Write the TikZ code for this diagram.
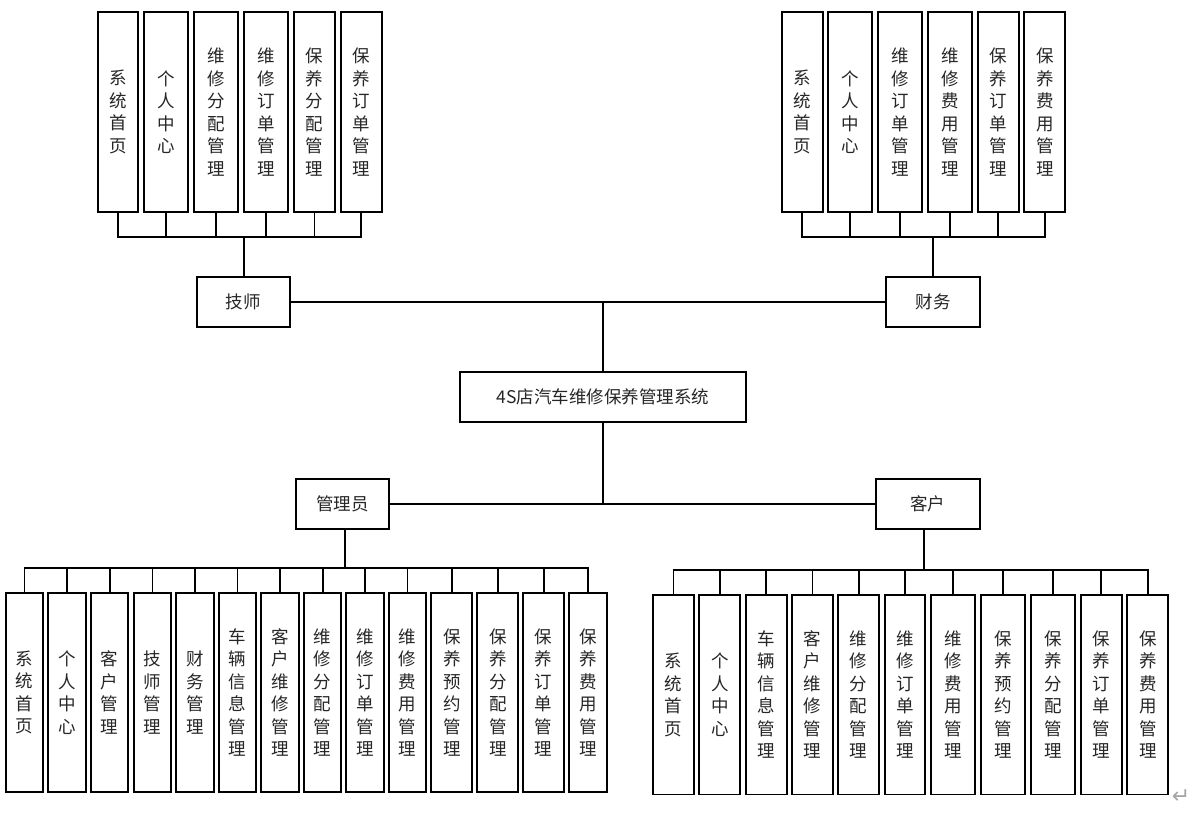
\documentclass[tikz,border=0pt]{standalone}
\usepackage{fontspec}
\newfontfamily\cjk{Noto Sans CJK SC}
\newfontfamily\dv{DejaVu Sans}
\tikzset{
  box/.style={draw=black, line width=1.7pt, fill=white, inner sep=0pt, font=\cjk\fontsize{17.5}{22.5}\selectfont, text=black!85},
  vb/.style={box, align=center, minimum height=199.5pt},
  hb/.style={box, minimum height=50pt},
  conn/.style={line width=1.7pt, draw=black}
}
\begin{document}
\begin{tikzpicture}[x=1pt,y=-1pt]
\useasboundingbox (0,0) rectangle (1203,818);
% levels
\coordinate (ytop) at (0,236.7);
\coordinate (ybl) at (0,568);
\coordinate (ybr) at (0,569.7);
% centre
\node[hb, minimum width=286pt] (main) at (603,396.7) {4S店汽车维修保养管理系统};
\node[hb, minimum width=93.3pt] (ts) at (243.35,301.7) {技师};
\node[hb, minimum width=94pt] (cw) at (933,301.7) {财务};
\node[hb, minimum width=93.6pt] (gly) at (342.5,504.2) {管理员};
\node[hb, minimum width=104.3pt] (kh) at (927.9,504.2) {客户};
\coordinate (jt) at (main.north |- ts.east);
\coordinate (jb) at (main.south |- gly.east);
\draw[conn] (ts.east) -- (cw.west);
\draw[conn] (main.north) -- (jt);
\draw[conn] (gly.east) -- (kh.west);
\draw[conn] (main.south) -- (jb);
% top-left
\node[vb, minimum width=40.6pt] (a1) at (118,112) {系\\统\\首\\页};
\node[vb, minimum width=44.3pt] (a2) at (166.15,112) {个\\人\\中\\心};
\node[vb, minimum width=44.3pt] (a3) at (216.15,112) {维\\修\\分\\配\\管\\理};
\node[vb, minimum width=44.3pt] (a4) at (266.15,112) {维\\修\\订\\单\\管\\理};
\node[vb, minimum width=41pt] (a5) at (314.5,112) {保\\养\\分\\配\\管\\理};
\node[vb, minimum width=41pt] (a6) at (361.2,112) {保\\养\\订\\单\\管\\理};
\coordinate (tlb) at ([xshift=0.65pt]ts.north |- ytop);
\foreach \n in {a1,a2,a3,a4,a5,a6} \draw[conn] (\n.south) |- (tlb);
\draw[conn] ([xshift=0.65pt]ts.north) -- (tlb);
% top-right
\node[vb, minimum width=41pt] (b1) at (802.2,112) {系\\统\\首\\页};
\node[vb, minimum width=44.6pt] (b2) at (850,112) {个\\人\\中\\心};
\node[vb, minimum width=44.6pt] (b3) at (900,112) {维\\修\\订\\单\\管\\理};
\node[vb, minimum width=44.6pt] (b4) at (950,112) {维\\修\\费\\用\\管\\理};
\node[vb, minimum width=41pt] (b5) at (998.2,112) {保\\养\\订\\单\\管\\理};
\node[vb, minimum width=41pt] (b6) at (1044.8,112) {保\\养\\费\\用\\管\\理};
\coordinate (trb) at (cw.north |- ytop);
\foreach \n in {b1,b2,b3,b4,b5,b6} \draw[conn] (\n.south) |- (trb);
\draw[conn] (cw.north) -- (trb);
% bottom-left
\node[vb, minimum width=37.6pt] (c1) at (24.5,692.5) {系\\统\\首\\页};
\node[vb, minimum width=37.4pt] (c2) at (67,692.5) {个\\人\\中\\心};
\node[vb, minimum width=37.3pt] (c3) at (109.65,692.5) {客\\户\\管\\理};
\node[vb, minimum width=37.3pt] (c4) at (152.35,692.5) {技\\师\\管\\理};
\node[vb, minimum width=37.7pt] (c5) at (194.85,692.5) {财\\务\\管\\理};
\node[vb, minimum width=37.6pt] (c6) at (237.5,692.5) {车\\辆\\信\\息\\管\\理};
\node[vb, minimum width=37.7pt] (c7) at (279.85,692.5) {客\\户\\维\\修\\管\\理};
\node[vb, minimum width=37.3pt] (c8) at (322.65,692.5) {维\\修\\分\\配\\管\\理};
\node[vb, minimum width=37.4pt] (c9) at (365,692.5) {维\\修\\订\\单\\管\\理};
\node[vb, minimum width=37.6pt] (c10) at (407.5,692.5) {维\\修\\费\\用\\管\\理};
\node[vb, minimum width=41pt] (c11) at (451.8,692.5) {保\\养\\预\\约\\管\\理};
\node[vb, minimum width=41pt] (c12) at (497.8,692.5) {保\\养\\分\\配\\管\\理};
\node[vb, minimum width=40.7pt] (c13) at (543.65,692.5) {保\\养\\订\\单\\管\\理};
\node[vb, minimum width=37.4pt] (c14) at (588,692.5) {保\\养\\费\\用\\管\\理};
\coordinate (blb) at ([xshift=2.5pt]gly.south |- ybl);
\foreach \n in {c1,c2,c3,c4,c5,c6,c7,c8,c9,c10,c11,c12,c13,c14} \draw[conn] (\n.north) |- (blb);
\draw[conn] ([xshift=2.5pt]gly.south) -- (blb);
% bottom-right
\node[vb, minimum width=41.3pt] (d1) at (673.35,694.7) {系\\统\\首\\页};
\node[vb, minimum width=41pt] (d2) at (719.8,694.7) {个\\人\\中\\心};
\node[vb, minimum width=41pt] (d3) at (766.2,694.7) {车\\辆\\信\\息\\管\\理};
\node[vb, minimum width=40.7pt] (d4) at (812.35,694.7) {客\\户\\维\\修\\管\\理};
\node[vb, minimum width=40.7pt] (d5) at (858.65,694.7) {维\\修\\分\\配\\管\\理};
\node[vb, minimum width=40.6pt] (d6) at (905,694.7) {维\\修\\订\\单\\管\\理};
\node[vb, minimum width=44.3pt] (d7) at (953.15,694.7) {维\\修\\费\\用\\管\\理};
\node[vb, minimum width=44.6pt] (d8) at (1003,694.7) {保\\养\\预\\约\\管\\理};
\node[vb, minimum width=44.6pt] (d9) at (1053,694.7) {保\\养\\分\\配\\管\\理};
\node[vb, minimum width=41pt] (d10) at (1101.2,694.7) {保\\养\\订\\单\\管\\理};
\node[vb, minimum width=41pt] (d11) at (1147.8,694.7) {保\\养\\费\\用\\管\\理};
\coordinate (brb) at ([xshift=-4.2pt]kh.south |- ybr);
\foreach \n in {d1,d2,d3,d4,d5,d6,d7,d8,d9,d10,d11} \draw[conn] (\n.north) |- (brb);
\draw[conn] ([xshift=-4.2pt]kh.south) -- (brb);
% paragraph mark
\node[font=\dv\fontsize{22}{22}\selectfont, text=black!35, inner sep=0pt] (pm) at (1181,797) {↵};
\end{tikzpicture}
\end{document}
